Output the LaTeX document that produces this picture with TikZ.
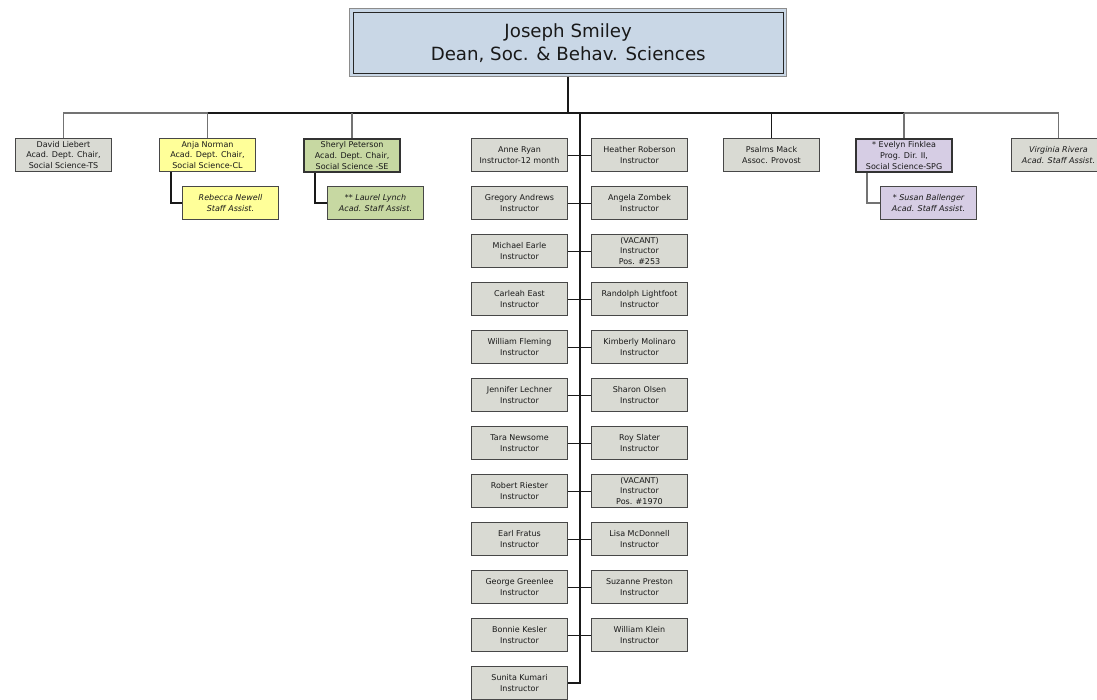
\documentclass[tikz,border=0pt]{standalone}
\usepackage{fontspec}
\setmainfont{DejaVu Sans}
\usetikzlibrary{calc}
\definecolor{boxgray}{RGB}{217,218,211}
\definecolor{boxyel}{RGB}{255,255,153}
\definecolor{boxgrn}{RGB}{199,216,162}
\definecolor{boxlav}{RGB}{214,205,228}
\definecolor{boxblue}{RGB}{201,215,230}
\definecolor{txt}{RGB}{25,25,25}
\tikzset{
  box/.style={rectangle, draw=black!72, line width=1pt, fill=boxgray, anchor=north west,
    minimum width=96pt, minimum height=33pt, inner sep=0pt, align=center,
    font=\fontsize{8pt}{10.8pt}\selectfont, text=txt},
  ybox/.style={box, fill=boxyel},
  gbox/.style={box, fill=boxgrn},
  lbox/.style={box, fill=boxlav},
  strong/.style={line width=2.2pt, draw=black!80},
  asst/.style={font=\fontsize{8pt}{10.8pt}\selectfont\itshape},
  blk/.style={draw=black!90, line width=1.5pt},
  gry/.style={draw=black!55, line width=1.3pt},
}
\begin{document}
\begin{tikzpicture}[x=1pt,y=-1pt]
\useasboundingbox[fill=white] (0,0) rectangle (1097,699);
% Dean
\node[box, fill=boxblue, draw=black!45, line width=1.4pt, minimum width=437pt, minimum height=68pt,
  font=\fontsize{18.2pt}{23pt}\selectfont] (dean) at (349,8) {Joseph Smiley\\Dean, Soc. \& Behav. Sciences};
\draw[black!85, line width=1pt] ([shift={(4,4)}]dean.north west) rectangle ([shift={(-4,-4)}]dean.south east);
\coordinate (bus) at (567,113);
\coordinate (trunk) at (580,113);
% first row
\node[box] (liebert) at (15,138) {David Liebert\\Acad. Dept. Chair,\\Social Science-TS};
\node[ybox] (norman) at (159,138) {Anja Norman\\Acad. Dept. Chair,\\Social Science-CL};
\node[gbox, strong] (peterson) at (303,138) {Sheryl Peterson\\Acad. Dept. Chair,\\Social Science -SE};
\node[box] (mack) at (723,138) {Psalms Mack\\Assoc. Provost};
\node[lbox, strong] (finklea) at (855,138) {* Evelyn Finklea\\Prog. Dir. II,\\Social Science-SPG};
\node[box, asst, minimum width=94pt] (rivera) at (1011,138) {Virginia Rivera\\Acad. Staff Assist.};
% assistants
\node[ybox, asst] (newell) at (182,186) {Rebecca Newell\\Staff Assist.};
\node[gbox, asst] (lynch) at (327,186) {** Laurel Lynch\\Acad. Staff Assist.};
\node[lbox, asst] (ballenger) at (880,186) {* Susan Ballenger\\Acad. Staff Assist.};
% middle columns
\node[box] (ryan) at (471,138) {Anne Ryan\\Instructor-12 month};
\node[box] (andrews) at (471,186) {Gregory Andrews\\Instructor};
\node[box] (earle) at (471,234) {Michael Earle\\Instructor};
\node[box] (east) at (471,282) {Carleah East\\Instructor};
\node[box] (fleming) at (471,330) {William Fleming\\Instructor};
\node[box] (lechner) at (471,378) {Jennifer Lechner\\Instructor};
\node[box] (newsome) at (471,426) {Tara Newsome\\Instructor};
\node[box] (riester) at (471,474) {Robert Riester\\Instructor};
\node[box] (fratus) at (471,522) {Earl Fratus\\Instructor};
\node[box] (greenlee) at (471,570) {George Greenlee\\Instructor};
\node[box] (kesler) at (471,618) {Bonnie Kesler\\Instructor};
\node[box] (kumari) at (471,666) {Sunita Kumari\\Instructor};
\node[box] (roberson) at (591,138) {Heather Roberson\\Instructor};
\node[box] (zombek) at (591,186) {Angela Zombek\\Instructor};
\node[box] (vac1) at (591,234) {(VACANT)\\Instructor\\Pos. \#253};
\node[box] (lightfoot) at (591,282) {Randolph Lightfoot\\Instructor};
\node[box] (molinaro) at (591,330) {Kimberly Molinaro\\Instructor};
\node[box] (olsen) at (591,378) {Sharon Olsen\\Instructor};
\node[box] (slater) at (591,426) {Roy Slater\\Instructor};
\node[box] (vac2) at (591,474) {(VACANT)\\Instructor\\Pos. \#1970};
\node[box] (mcdonnell) at (591,522) {Lisa McDonnell\\Instructor};
\node[box] (preston) at (591,570) {Suzanne Preston\\Instructor};
\node[box] (klein) at (591,618) {William Klein\\Instructor};
% connectors
\draw[blk] (dean.south) -- (dean.south |- bus);
\draw[gry] (liebert.north) -- (liebert.north |- bus) -- (norman.north |- bus);
\draw[blk] (norman.north |- bus) -- (finklea.north |- bus);
\draw[gry] (finklea.north |- bus) -- (rivera.north |- bus) -- (rivera.north);
\draw[gry] (norman.north |- bus) -- (norman.north);
\draw[gry] (peterson.north |- bus) -- (peterson.north);
\draw[blk] (mack.north |- bus) -- (mack.north);
\draw[gry] (finklea.north |- bus) -- (finklea.north);
\draw[blk, line width=1.2pt] ($(norman.south west)+(12,0)$) |- (newell.west);
\draw[blk, line width=1.2pt] ($(peterson.south west)+(12,0)$) |- (lynch.west);
\draw[gry, line width=1.2pt] ($(finklea.south west)+(12,0)$) |- (ballenger.west);
\draw[blk] (trunk) |- (kumari.east);
\foreach \a/\b in {ryan/roberson, andrews/zombek, earle/vac1, east/lightfoot, fleming/molinaro,
  lechner/olsen, newsome/slater, riester/vac2, fratus/mcdonnell, greenlee/preston, kesler/klein}
  \draw[blk, line width=1pt] (\a.east) -- (\b.west);
\end{tikzpicture}
\end{document}
